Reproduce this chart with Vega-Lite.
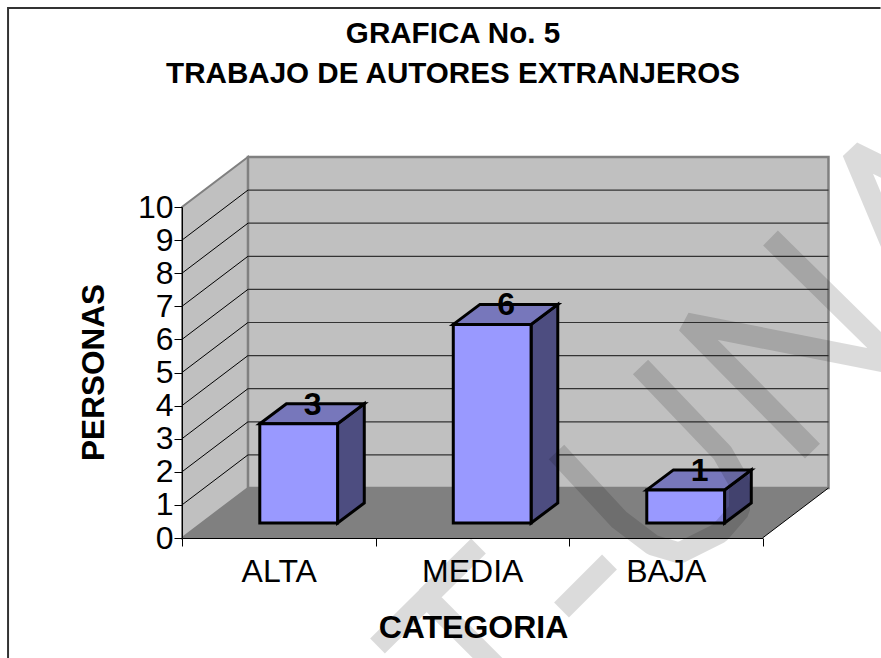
{
"$schema":"https://vega.github.io/schema/vega-lite/v6.json",
"width":646,"height":381,
"autosize":{"type":"none"},
"padding":{"left":182,"top":157,"right":53,"bottom":120},
"background":"#ffffff",
"config":{"view":{"stroke":null}},
"title":{"text":["GRAFICA No. 5","TRABAJO DE AUTORES EXTRANJEROS"],"font":"Liberation Sans","fontSize":29.6,"fontWeight":"bold","color":"#000000","lineHeight":40,"anchor":"middle","frame":"group","dx":-52,"offset":-86},
"datasets":{
"marco":[{"i":1,"x":-0.899,"y":-3.625},{"i":2,"x":-0.899,"y":16.012},{"i":3,"x":3.61,"y":16.012}],
"paredLateral":[{"x":0,"y":0,"y2":10},{"x":0.341,"y":1.511,"y2":11.511}],
"paredFondo":[{"x":0.341,"y":1.511,"y2":11.511},{"x":3.341,"y":1.511,"y2":11.511}],
"piso":[{"y":0,"x":0,"x2":3},{"y":1.511,"x":0.341,"x2":3.341}],
"lineas":[
{"x":0,"y":1,"x2":0.341,"y2":2.511},{"x":0,"y":2,"x2":0.341,"y2":3.511},{"x":0,"y":3,"x2":0.341,"y2":4.511},{"x":0,"y":4,"x2":0.341,"y2":5.511},{"x":0,"y":5,"x2":0.341,"y2":6.511},{"x":0,"y":6,"x2":0.341,"y2":7.511},{"x":0,"y":7,"x2":0.341,"y2":8.511},{"x":0,"y":8,"x2":0.341,"y2":9.511},{"x":0,"y":9,"x2":0.341,"y2":10.511},
{"x":3,"y":0,"x2":3.341,"y2":1.511}],
"rejilla":[
{"x":0.341,"x2":3.341,"y":2.511},{"x":0.341,"x2":3.341,"y":3.511},{"x":0.341,"x2":3.341,"y":4.511},{"x":0.341,"x2":3.341,"y":5.511},{"x":0.341,"x2":3.341,"y":6.511},{"x":0.341,"x2":3.341,"y":7.511},{"x":0.341,"x2":3.341,"y":8.511},{"x":0.341,"x2":3.341,"y":9.511},{"x":0.341,"x2":3.341,"y":10.511}],
"frente":[
{"categoria":"ALTA","personas":3,"x":0.402,"x2":0.804,"y":0.453,"y2":3.453},
{"categoria":"MEDIA","personas":6,"x":1.402,"x2":1.804,"y":0.453,"y2":6.453},
{"categoria":"BAJA","personas":1,"x":2.402,"x2":2.804,"y":0.453,"y2":1.453}],
"tapa":[
{"categoria":"ALTA","y":3.453,"x":0.402,"x2":0.804},{"categoria":"ALTA","y":4.057,"x":0.54,"x2":0.942},
{"categoria":"MEDIA","y":6.453,"x":1.402,"x2":1.804},{"categoria":"MEDIA","y":7.057,"x":1.54,"x2":1.942},
{"categoria":"BAJA","y":1.453,"x":2.402,"x2":2.804},{"categoria":"BAJA","y":2.057,"x":2.54,"x2":2.942}],
"lado":[
{"categoria":"ALTA","x":0.804,"y":0.453,"y2":3.453},{"categoria":"ALTA","x":0.942,"y":1.057,"y2":4.057},
{"categoria":"MEDIA","x":1.804,"y":0.453,"y2":6.453},{"categoria":"MEDIA","x":1.942,"y":1.057,"y2":7.057},
{"categoria":"BAJA","x":2.804,"y":0.453,"y2":1.453},{"categoria":"BAJA","x":2.942,"y":1.057,"y2":2.057}],
"valores":[{"categoria":"ALTA","personas":3},{"categoria":"MEDIA","personas":6},{"categoria":"BAJA","personas":1}],
"marcaAgua":[
{"trazo":"T","i":1,"x":1.0103,"y":-3.263},{"trazo":"T","i":2,"x":1.5323,"y":-0.242},{"trazo":"T","i":3,"x":1.2636,"y":-1.782},{"trazo":"T","i":4,"x":1.6925,"y":-4.29},
{"trazo":"T2","i":1,"x":1.9612,"y":-2.175},{"trazo":"T2","i":2,"x":2.2093,"y":-0.725},
{"trazo":"U","i":1,"x":1.9354,"y":2.598},{"trazo":"U","i":2,"x":2.261,"y":0.544},{"trazo":"U","i":3,"x":2.4315,"y":-0.211},{"trazo":"U","i":4,"x":2.5711,"y":-0.453},{"trazo":"U","i":5,"x":2.7778,"y":0.151},{"trazo":"U","i":6,"x":2.8811,"y":0.846},{"trazo":"U","i":7,"x":2.8811,"y":1.662},{"trazo":"U","i":8,"x":2.7933,"y":2.568},{"trazo":"U","i":9,"x":2.3695,"y":5.166},
{"trazo":"N","i":1,"x":3.2584,"y":2.628},{"trazo":"N","i":2,"x":2.6072,"y":6.495},{"trazo":"N","i":3,"x":3.708,"y":5.227},{"trazo":"N","i":4,"x":3.0413,"y":9.063},
{"trazo":"A","i":1,"x":3.708,"y":10.967},{"trazo":"A","i":2,"x":3.4651,"y":11.662},{"trazo":"A","i":3,"x":3.708,"y":8.278}]
},
"resolve":{"scale":{"x":"independent"},"axis":{"x":"independent","y":"independent"}},
"layer":[
{"resolve":{"axis":{"y":"independent"}},"layer":[
{"data":{"name":"paredLateral"},"mark":{"type":"area","fill":"#c0c0c0","stroke":"#808080","strokeWidth":2},
 "encoding":{"x":{"field":"x","type":"quantitative","axis":null,"scale":{"domain":[0,3],"range":[0,580.5]}},
 "y":{"field":"y","type":"quantitative","stack":null,"scale":{"domain":[0,10],"range":[381,50],"nice":false,"zero":false},
  "axis":{"values":[0,1,2,3,4,5,6,7,8,9,10],"labelOverlap":false,"grid":false,"domainColor":"#000000","tickColor":"#000000","tickSize":8,"labelColor":"#000000","labelFont":"Liberation Sans","labelFontSize":32,"labelPadding":1,"title":"PERSONAS","titleFont":"Liberation Sans","titleFontSize":31.5,"titleFontWeight":"bold","titleColor":"#000000","titleX":-72,"titleY":215,"zindex":1}},
 "y2":{"field":"y2"}}},
{"data":{"name":"paredFondo"},"mark":{"type":"area","fill":"#c0c0c0","stroke":"#808080","strokeWidth":2.5},
 "encoding":{"x":{"field":"x","type":"quantitative","axis":null},"y":{"field":"y","type":"quantitative","stack":null,"axis":null},"y2":{"field":"y2"}}},
{"data":{"name":"piso"},"mark":{"type":"area","orient":"horizontal","fill":"#808080"},
 "encoding":{"y":{"field":"y","type":"quantitative","axis":null},"x":{"field":"x","type":"quantitative","stack":null,"axis":null},"x2":{"field":"x2"}}},
{"data":{"name":"rejilla"},"mark":{"type":"rule","color":"#333333","strokeWidth":1.2},
 "encoding":{"x":{"field":"x","type":"quantitative","axis":null},"x2":{"field":"x2"},"y":{"field":"y","type":"quantitative","axis":null}}},
{"data":{"name":"lineas"},"mark":{"type":"rule","color":"#000000","strokeWidth":1},
 "encoding":{"x":{"field":"x","type":"quantitative","axis":null},"x2":{"field":"x2"},"y":{"field":"y","type":"quantitative","axis":null},"y2":{"field":"y2"}}},
{"data":{"name":"lado"},"mark":{"type":"area","fill":"#4d4d80","stroke":"#000000","strokeWidth":3},
 "encoding":{"detail":{"field":"categoria"},"x":{"field":"x","type":"quantitative","axis":null},"y":{"field":"y","type":"quantitative","stack":null,"axis":null},"y2":{"field":"y2"}}},
{"data":{"name":"tapa"},"mark":{"type":"area","orient":"horizontal","fill":"#7777bb","stroke":"#000000","strokeWidth":3},
 "encoding":{"detail":{"field":"categoria"},"y":{"field":"y","type":"quantitative","axis":null},"x":{"field":"x","type":"quantitative","stack":null,"axis":null},"x2":{"field":"x2"}}},
{"data":{"name":"frente"},"mark":{"type":"rect","fill":"#9999ff","stroke":"#000000","strokeWidth":3},
 "encoding":{"x":{"field":"x","type":"quantitative","axis":null},"x2":{"field":"x2"},"y":{"field":"y","type":"quantitative","axis":null},"y2":{"field":"y2"}}},
{"data":{"name":"marco"},"mark":{"type":"line","color":"#333333","strokeWidth":2},
 "encoding":{"order":{"field":"i"},"x":{"field":"x","type":"quantitative","axis":null},"y":{"field":"y","type":"quantitative","axis":null}}}
]},
{"data":{"name":"valores"},"mark":{"type":"text","font":"Liberation Sans","fontSize":32,"fontWeight":"bold","color":"#000000","baseline":"middle","dx":34,"dy":-34},
 "encoding":{"x":{"field":"categoria","type":"nominal","sort":["ALTA","MEDIA","BAJA"],"scale":{"domain":["ALTA","MEDIA","BAJA"],"range":[0,580.5],"paddingInner":0,"paddingOuter":0},
  "axis":{"orient":"bottom","tickBand":"extent","labelAngle":0,"domainColor":"#000000","tickColor":"#000000","tickSize":8,"labelColor":"#000000","labelFont":"Liberation Sans","labelFontSize":32,"labelPadding":10,"title":"CATEGORIA","titleFont":"Liberation Sans","titleFontSize":32,"titleFontWeight":"bold","titleColor":"#000000","titleX":291,"titleY":74,"zindex":1}},
 "y":{"field":"personas","type":"quantitative","axis":null},"text":{"field":"personas","type":"quantitative"}}},
{"data":{"name":"marcaAgua"},"mark":{"type":"line","color":"#000000","strokeOpacity":0.14,"strokeWidth":21,"strokeJoin":"bevel","strokeCap":"butt","interpolate":"linear"},
 "encoding":{"detail":{"field":"trazo"},"order":{"field":"i"},"x":{"field":"x","type":"quantitative","axis":null,"scale":{"domain":[0,3],"range":[0,580.5]}},"y":{"field":"y","type":"quantitative","axis":null}}}
]
}
